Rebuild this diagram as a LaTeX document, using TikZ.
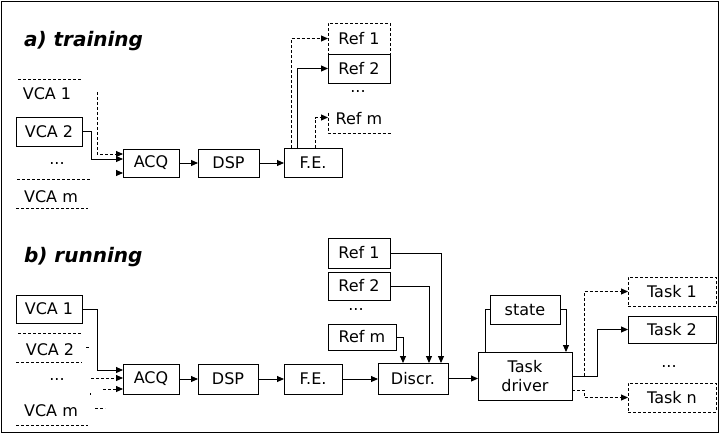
\documentclass[tikz,border=0pt]{standalone}
\usepackage{fontspec}
\setmainfont{DejaVu Sans}
\usetikzlibrary{arrows.meta}
\begin{document}
\begin{tikzpicture}[x=1pt,y=-1pt, line width=0.9pt,
  every node/.style={font=\fontsize{16}{19}\selectfont, inner sep=0pt, outer sep=0pt},
  bx/.style={draw, line width=0.9pt},
  dsh/.style={dash pattern=on 3pt off 2pt},
  dbx/.style={draw, line width=0.9pt, dash pattern=on 3pt off 2pt},
  arr/.style={-{Triangle[length=7pt,width=6pt]}},
  ttl/.style={font=\fontsize{20}{22}\selectfont\bfseries\itshape, anchor=base west}]
\useasboundingbox (0,0) rectangle (722,434);
\draw (1,1) rectangle (718,432);

% ---------------- a) training ----------------
\node[ttl] (ta) at (24,46) {a) training};

\node (va1) at (47,94) {VCA 1};
\draw[dsh] (18,79) -- (82,79);
\node[bx, minimum width=66pt, minimum height=29pt] (va2) at (49,131.5) {VCA 2};
\node (vadots) at (57,164) {...};
\draw[dsh] (17,179) -- (91,179);
\node (vam) at (51,197) {VCA m};
\draw[dsh] (16,208) -- (88,208);

\node[bx, minimum width=56pt, minimum height=28pt] (acqa) at (151,163) {ACQ};
\node[bx, minimum width=61pt, minimum height=28pt] (dspa) at (228.5,163) {DSP};
\node[bx, minimum width=58pt, minimum height=29pt] (fea) at (313,162.5) {F.E.};

\node[dbx, minimum width=62pt, minimum height=31pt] (ref1a) at (359,38.5) {Ref 1};
\node[bx, minimum width=62pt, minimum height=29pt] (ref2a) at (359,68.5) {Ref 2};
\node (refdotsa) at (358,92) {...};
\node[minimum width=62pt, minimum height=29pt] (refma) at (359,118.5) {Ref m};
\draw[dsh] ([yshift=6pt]refma.west) |- ([xshift=2pt]refma.south east);

\coordinate (ca1) at (97,92);
\draw[dsh,arr] (ca1) |- ([yshift=9pt]acqa.west);
\draw[arr] (va2.east) -- ++(9,0) |- ([yshift=4pt]acqa.west);
\draw[arr] ([xshift=-7pt,yshift=-10pt]acqa.west) -- ([yshift=-10pt]acqa.west);
\draw[arr] (acqa.east) -- (dspa.west);
\draw[arr] (dspa.east) -- (dspa.east -| fea.west);
\draw[dsh,arr] ([xshift=-22pt]fea.north) |- (ref1a.west);
\draw[arr] ([xshift=-16pt]fea.north) |- (ref2a.west);
\draw[dsh,arr] ([xshift=2pt]fea.north) |- ([yshift=1pt]refma.west);

% ---------------- b) running ----------------
\node[ttl] (tb) at (24,262) {b) running};

\node[bx, minimum width=66pt, minimum height=28pt] (vb1) at (49,309) {VCA 1};
\draw[dsh] (18,333) -- (82,333);
\node (vb2) at (50,350) {VCA 2};
\draw[dsh] (16,362) -- (82,362);
\node (vbdots) at (57,380) {...};
\node (vbm) at (51,411) {VCA m};
\draw[dsh] (16,425) -- (88,425);

\node[bx, minimum width=56pt, minimum height=30pt] (acqb) at (151,379) {ACQ};
\node[bx, minimum width=60pt, minimum height=30pt] (dspb) at (228,379) {DSP};
\node[bx, minimum width=58pt, minimum height=30pt] (feb) at (313,379) {F.E.};
\node[bx, minimum width=70pt, minimum height=31pt] (discr) at (413,378.5) {Discr.};
\node[bx, minimum width=94pt, minimum height=48pt, align=center] (td) at (525,376) {Task\\driver};
\node[bx, minimum width=70pt, minimum height=29pt] (state) at (525,309.5) {state};

\node[bx, minimum width=62pt, minimum height=30pt] (ref1b) at (359,253) {Ref 1};
\node[bx, minimum width=62pt, minimum height=28pt] (ref2b) at (359,286) {Ref 2};
\node (refdotsb) at (356,310) {...};
\node[bx, minimum width=68pt, minimum height=26pt] (refmb) at (362,337) {Ref m};

\node[dbx, minimum width=88pt, minimum height=29pt] (task1) at (672,291.5) {Task 1};
\node[bx, minimum width=88pt, minimum height=27pt] (task2) at (672,329.5) {Task 2};
\node (taskdots) at (669,367) {...};
\node[dbx, minimum width=88pt, minimum height=29pt] (taskn) at (672,397.5) {Task n};

\draw[arr] (vb1.east) -- ++(15,0) |- ([yshift=9pt]acqb.west);
\coordinate (s1) at (86,347);
\draw[dsh] (s1) -- ++(4,0);
\coordinate (s2) at (91,378);
\draw[dsh,arr] (s2) -- (s2 -| acqb.west);
\coordinate (s3) at (90,393);
\draw (s3) -- ++(0,2);
\coordinate (s4) at (95,408);
\draw[dsh] (s4) -- ++(10,0);
\coordinate (s5) at (103,389);
\draw[dsh,arr] (s5) -- (s5 -| acqb.west);

\draw[arr] (acqb.east) -- (dspb.west);
\draw[arr] (dspb.east) -- (feb.west);
\draw[arr] (feb.east) -- (feb.east -| discr.west);
\draw[arr] (discr.east) -- (discr.east -| td.west);

\draw[arr] (refmb.east) -| ([xshift=-10pt]discr.north);
\draw[arr] (ref2b.east) -| ([xshift=16pt]discr.north);
\draw[arr] (ref1b.east) -| ([xshift=28pt]discr.north);

\draw ([xshift=-40pt]td.north) |- (state.west);
\draw[arr] (state.east) -| ([xshift=41pt]td.north);

\draw[arr] (td.east) -- ++(25,0) |- (task2.west);
\draw[dsh,arr] ([xshift=12pt]td.east) |- (task1.west);
\draw[dsh,arr] ([yshift=-14pt]td.east) -- ++(12,0) |- (taskn.west);
\end{tikzpicture}
\end{document}
